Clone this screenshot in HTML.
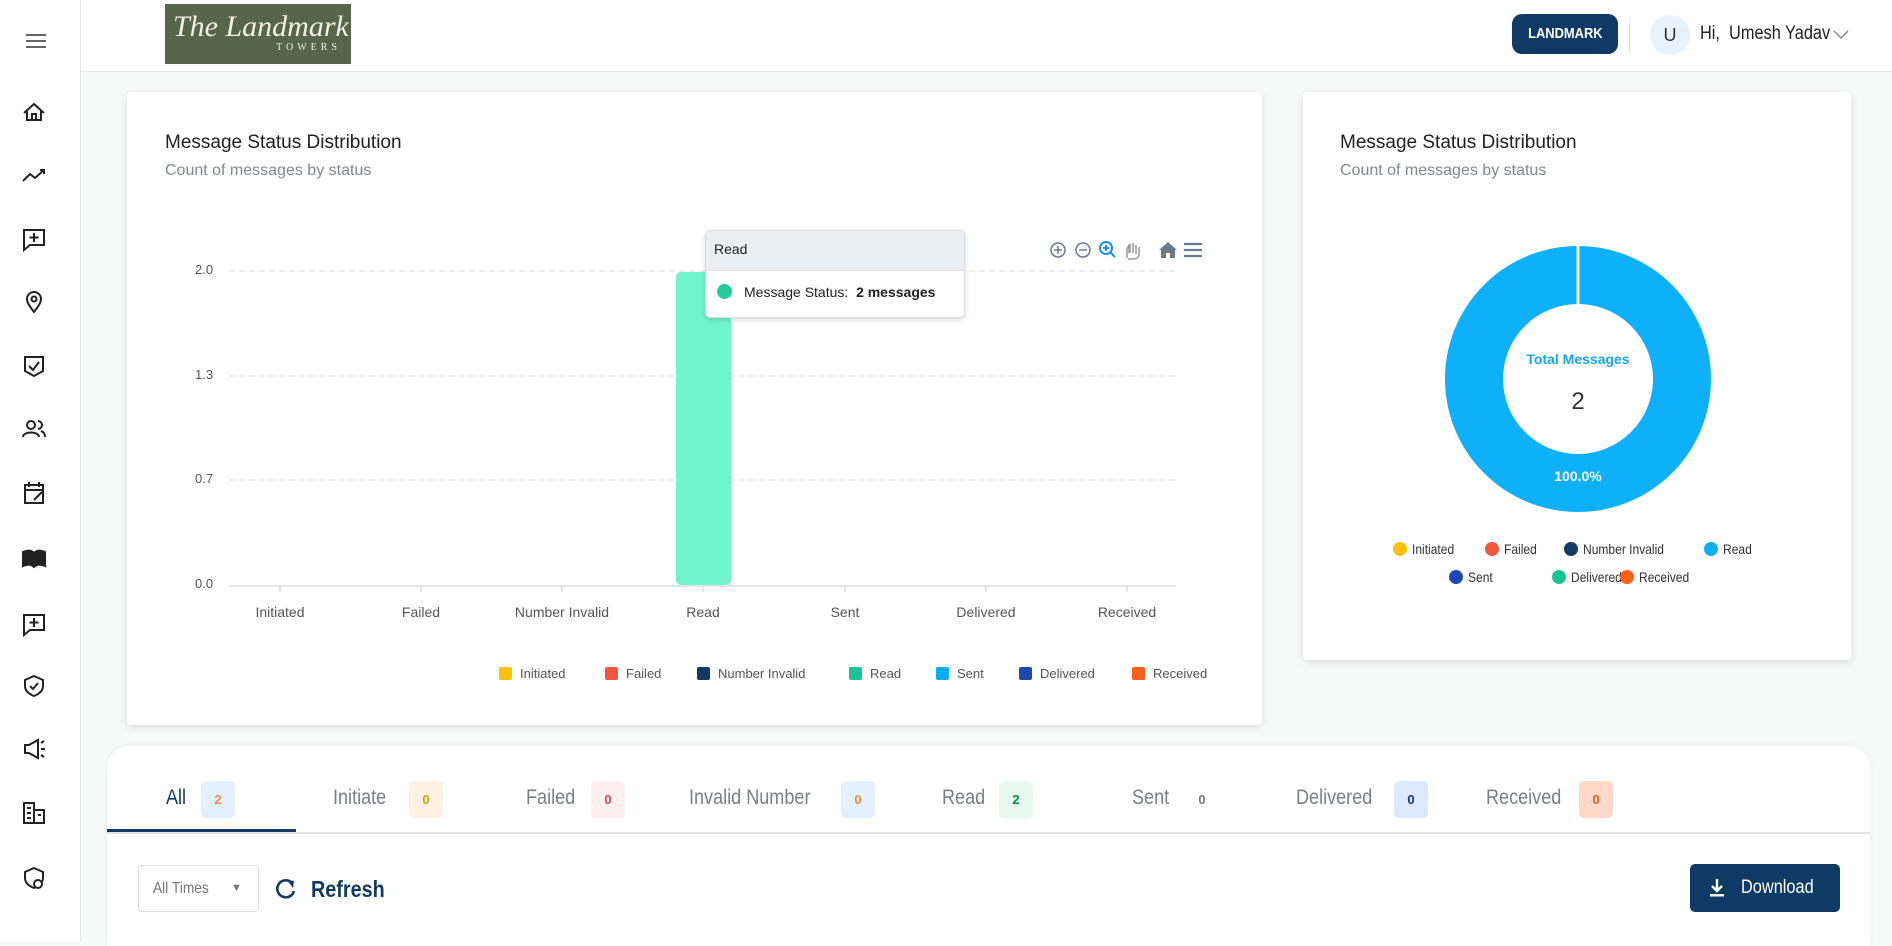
<!DOCTYPE html>
<html><head><meta charset="utf-8"><style>
*{box-sizing:border-box;margin:0;padding:0}
body{width:1892px;height:941px;overflow:hidden;background:#f7f8f8;font-family:"Liberation Sans",sans-serif;position:relative;color:#222}
.a{position:absolute}
.n{display:inline-block;transform:scaleX(.86);transform-origin:left center;white-space:nowrap}
.side{left:0;top:0;width:81px;height:941px;background:#fff;border-right:1px solid #e6e6e6}
.hdr{left:81px;top:0;width:1811px;height:72px;background:#fff;border-bottom:1px solid #e8e8e8}
.card{background:#fff;border-radius:4px;box-shadow:0 2px 8px rgba(0,0,0,.12)}
.t{font-size:19px;color:#1f1f1f}
.st{font-size:16px;color:#808890}
.ax{font-family:"Liberation Sans",sans-serif;font-size:13px;color:#555}
.lg{font-family:"Liberation Sans",sans-serif;font-size:13px;color:#555}
.mk{display:inline-block;width:13px;height:13px;border-radius:2px;vertical-align:-2px;margin-right:8px}
.dm{display:inline-block;width:14px;height:14px;border-radius:50%;vertical-align:-2px;margin-right:5px}
.tab{font-size:21px;color:#7a7f86;top:786px}
.bd{top:781px;height:37px;width:34px;border-radius:5px;font-size:13px;font-weight:bold;text-align:center;line-height:37px;font-family:"Liberation Sans",sans-serif}
</style></head><body>
<div class="a side"></div>
<svg class="a" style="left:0;top:0" width="81" height="941" fill="none" stroke="#222" stroke-width="2">
<g stroke="#666"><line x1="26" y1="35" x2="46" y2="35"/><line x1="26" y1="41" x2="46" y2="41"/><line x1="26" y1="47" x2="46" y2="47"/></g>
<path d="M24 113 L34 104 L44 113 M27 111 V120 H41 V111 M32 120 V114 H36 V120"/>
<path d="M23 181 L30 174 L35 178 L44 170 M40 170 H44 V174"/>
<path d="M24 230 H44 V245 H30 L24 250 Z M34 233 V242 M29.5 237.5 H38.5"/>
<path d="M34 312 C28 304 27 302 27 299 A7 7 0 0 1 41 299 C41 302 40 304 34 312 Z"/><circle cx="34" cy="299" r="2.5"/>
<path d="M25 357 H43 V371 L34 376 L25 371 Z M29 366 L33 370 L39 362"/>
<circle cx="31" cy="425" r="4"/><path d="M23 437 C23 431 39 431 39 437 M38 421 A4 4 0 0 1 38 429 M41 431 C44 432 45 434 45 437"/>
<path d="M25 485 H43 V503 H25 Z M25 490 H43 M29 482 V487 M39 482 V487 M34 500 L42 492"/>
<path d="M23 552 C28 550 31 550 34 553 C37 550 40 550 45 552 V566 C40 564 37 564 34 567 C31 564 28 564 23 566 Z" fill="#222"/>
<path d="M24 615 H44 V630 H30 L24 635 Z M34 618 V627 M29.5 622.5 H38.5"/>
<path d="M34 676 L43 680 V686 C43 691 39 694 34 696 C29 694 25 691 25 686 V680 Z M30 686 L33 689 L38 683"/>
<path d="M25 745 V753 H29 L38 758 V740 L29 745 Z M41 743 L44 741 M41 749 H45 M41 755 L44 757"/>
<path d="M24 803 H34 V823 H24 Z M34 810 H44 V823 H34 M27 808 H31 M27 813 H31 M27 818 H31 M38 815 H41"/>
<path d="M34 868 L43 872 V878 C43 883 39 886 34 888 C29 886 25 883 25 878 V872 Z"/><circle cx="38" cy="884" r="4" fill="#fff"/>
</svg>
<div class="a hdr"></div>
<div class="a" style="left:165px;top:4px;width:186px;height:60px;background:#56664a;color:#f1efe6;font-family:'Liberation Serif',serif;font-style:italic;font-size:30px;padding:8px 0 0 8px;line-height:30px">The Landmark<div style="font-style:normal;font-size:10px;letter-spacing:4px;text-align:right;padding-right:10px;line-height:12px">TOWERS</div></div>
<div class="a" style="left:1512px;top:14px;width:106px;height:40px;background:#0e3a64;border-radius:10px;color:#fff;font-weight:bold;font-size:15px;text-align:center;line-height:40px"><span class="n" style="transform-origin:center">LANDMARK</span></div>
<div class="a" style="left:1629px;top:18px;width:1px;height:34px;background:#e2e2e2"></div>
<div class="a" style="left:1650px;top:15px;width:40px;height:40px;border-radius:50%;background:#e6f2fd;color:#333;text-align:center;line-height:40px;font-size:18px">U</div>
<div class="a" style="left:1700px;top:23px;font-size:19px;color:#222"><span class="n">Hi,&nbsp; Umesh Yadav</span></div>
<svg class="a" style="left:1833px;top:30px" width="16" height="10"><path d="M1 1 L8 8 L15 1" stroke="#888" stroke-width="1.5" fill="none"/></svg>

<div class="a card" style="left:127px;top:92px;width:1135px;height:633px"></div>
<div class="a t" style="left:165px;top:132px">Message Status Distribution</div>
<div class="a st" style="left:165px;top:162px">Count of messages by status</div>
<svg class="a" style="left:0;top:0" width="1262" height="725">
<g stroke="#ddd" stroke-dasharray="6,4"><line x1="229" y1="271" x2="1176" y2="271"/><line x1="229" y1="376" x2="1176" y2="376"/><line x1="229" y1="480" x2="1176" y2="480"/></g>
<line x1="229" y1="586" x2="1176" y2="586" stroke="#ccc"/>
<g stroke="#ccc"><line x1="280" y1="586" x2="280" y2="592"/><line x1="421" y1="586" x2="421" y2="592"/><line x1="562" y1="586" x2="562" y2="592"/><line x1="703" y1="586" x2="703" y2="592"/><line x1="845" y1="586" x2="845" y2="592"/><line x1="986" y1="586" x2="986" y2="592"/><line x1="1127" y1="586" x2="1127" y2="592"/></g>
<rect x="676" y="272" width="55" height="313" rx="5" fill="#6ff5c9"/>
<g stroke="#6b7a89" stroke-width="1.5" fill="none"><circle cx="1058" cy="250" r="7"/><path d="M1054 250h8M1058 246v8"/><circle cx="1083" cy="250" r="7"/><path d="M1079 250h8"/></g>
<g stroke="#1a8fe8" stroke-width="2" fill="none"><circle cx="1106" cy="248" r="6"/><path d="M1110 252l5 5M1103 248h6M1106 245v6"/></g>
<path d="M1127 258v-9l2-4v8M1130 244v9M1133 243v10M1136 245v9M1139 247v8c0 3-3 4-6 4h-5" stroke="#999" stroke-width="1.5" fill="none"/>
<path d="M1159 250l9-8 9 8h-2v8h-5v-5h-4v5h-5v-8z" fill="#6b7a89"/>
<g stroke="#6b7a89" stroke-width="2.2"><line x1="1184" y1="244" x2="1202" y2="244"/><line x1="1184" y1="250" x2="1202" y2="250"/><line x1="1184" y1="256" x2="1202" y2="256"/></g>
</svg>
<div class="a ax" style="left:195px;top:262px">2.0</div>
<div class="a ax" style="left:195px;top:367px">1.3</div>
<div class="a ax" style="left:195px;top:471px">0.7</div>
<div class="a ax" style="left:195px;top:576px">0.0</div>
<div class="a ax" style="left:230px;top:604px;width:100px;text-align:center;font-size:14px">Initiated</div>
<div class="a ax" style="left:371px;top:604px;width:100px;text-align:center;font-size:14px">Failed</div>
<div class="a ax" style="left:502px;top:604px;width:120px;text-align:center;font-size:14px">Number Invalid</div>
<div class="a ax" style="left:653px;top:604px;width:100px;text-align:center;font-size:14px">Read</div>
<div class="a ax" style="left:795px;top:604px;width:100px;text-align:center;font-size:14px">Sent</div>
<div class="a ax" style="left:936px;top:604px;width:100px;text-align:center;font-size:14px">Delivered</div>
<div class="a ax" style="left:1077px;top:604px;width:100px;text-align:center;font-size:14px">Received</div>
<div class="a lg" style="left:499px;top:666px"><span class="mk" style="background:#fbc10d"></span>Initiated</div>
<div class="a lg" style="left:605px;top:666px"><span class="mk" style="background:#f5543f"></span>Failed</div>
<div class="a lg" style="left:697px;top:666px"><span class="mk" style="background:#143a63"></span>Number Invalid</div>
<div class="a lg" style="left:849px;top:666px"><span class="mk" style="background:#19c495"></span>Read</div>
<div class="a lg" style="left:936px;top:666px"><span class="mk" style="background:#0eaef5"></span>Sent</div>
<div class="a lg" style="left:1019px;top:666px"><span class="mk" style="background:#1e48b4"></span>Delivered</div>
<div class="a lg" style="left:1132px;top:666px"><span class="mk" style="background:#fd5f18"></span>Received</div>
<div class="a" style="left:705px;top:230px;width:260px;height:88px;background:#fff;border:1px solid #ddd;border-radius:5px;box-shadow:0 2px 6px rgba(0,0,0,.15);font-family:'Liberation Sans',sans-serif;overflow:hidden">
<div style="height:40px;background:#eceff1;border-bottom:1px solid #ddd;padding:10px 8px;font-size:14px">Read</div>
<div style="padding:13px 11px;font-size:14px"><span class="dm" style="background:#24cc9c;width:15px;height:15px;margin-right:12px"></span>Message Status:&nbsp; <b>2 messages</b></div></div>

<div class="a card" style="left:1303px;top:92px;width:548px;height:568px"></div>
<div class="a t" style="left:1340px;top:132px">Message Status Distribution</div>
<div class="a st" style="left:1340px;top:162px">Count of messages by status</div>
<svg class="a" style="left:1440px;top:240px" width="280" height="280"><circle cx="138" cy="139" r="104" fill="none" stroke="#0eb0f9" stroke-width="58"/><line x1="138" y1="5" x2="138" y2="66" stroke="#fff" stroke-width="3"/></svg>
<div class="a" style="left:1478px;top:351px;width:200px;text-align:center;color:#16a6ef;font-weight:bold;font-size:14px">Total Messages</div>
<div class="a" style="left:1478px;top:388px;width:200px;text-align:center;color:#333;font-size:24px">2</div>
<div class="a" style="left:1478px;top:468px;width:200px;text-align:center;color:#fff;font-weight:bold;font-size:14px">100.0%</div>
<div class="a lg" style="left:1393px;top:541px;font-size:14px;color:#333"><span class="dm" style="background:#fbc10d"></span><span class="n">Initiated</span></div>
<div class="a lg" style="left:1485px;top:541px;font-size:14px;color:#333"><span class="dm" style="background:#f5543f"></span><span class="n">Failed</span></div>
<div class="a lg" style="left:1564px;top:541px;font-size:14px;color:#333"><span class="dm" style="background:#143a63"></span><span class="n">Number Invalid</span></div>
<div class="a lg" style="left:1704px;top:541px;font-size:14px;color:#333"><span class="dm" style="background:#0eaef5"></span><span class="n">Read</span></div>
<div class="a lg" style="left:1449px;top:569px;font-size:14px;color:#333"><span class="dm" style="background:#1e48b4"></span><span class="n">Sent</span></div>
<div class="a lg" style="left:1552px;top:569px;font-size:14px;color:#333"><span class="dm" style="background:#19c495"></span><span class="n">Delivered</span></div>
<div class="a lg" style="left:1620px;top:569px;font-size:14px;color:#333"><span class="dm" style="background:#fd5f18"></span><span class="n">Received</span></div>

<div class="a" style="left:107px;top:746px;width:1763px;height:200px;background:#fff;border-radius:22px 22px 0 0;box-shadow:0 0 6px rgba(0,0,0,.05)"></div>
<div class="a" style="left:107px;top:832px;width:1763px;height:2px;background:#e2e2e2"></div>
<div class="a" style="left:107px;top:829px;width:189px;height:3px;background:#123a62"></div>
<div class="a tab" style="left:166px;color:#123a62"><span class="n">All</span></div><div class="a bd" style="left:201px;background:#e3f0fd;color:#f08a3c">2</div>
<div class="a tab" style="left:333px"><span class="n">Initiate</span></div><div class="a bd" style="left:409px;background:#fdf1e3;color:#d4a106">0</div>
<div class="a tab" style="left:526px"><span class="n">Failed</span></div><div class="a bd" style="left:591px;background:#fdeef0;color:#d9455a">0</div>
<div class="a tab" style="left:689px"><span class="n">Invalid Number</span></div><div class="a bd" style="left:841px;background:#e3f0fd;color:#f08a3c">0</div>
<div class="a tab" style="left:942px"><span class="n">Read</span></div><div class="a bd" style="left:999px;background:#e6f8ef;color:#0a8a45">2</div>
<div class="a tab" style="left:1132px"><span class="n">Sent</span></div><div class="a bd" style="left:1185px;color:#777">0</div>
<div class="a tab" style="left:1296px"><span class="n">Delivered</span></div><div class="a bd" style="left:1394px;background:#dce8fd;color:#1b2d8f">0</div>
<div class="a tab" style="left:1486px"><span class="n">Received</span></div><div class="a bd" style="left:1579px;background:#fdd9c9;color:#f15a10">0</div>
<div class="a" style="left:138px;top:865px;width:121px;height:47px;border:1px solid #ddd;border-radius:4px;font-size:16px;color:#777;padding:14px 0 0 14px"><span class="n">All Times</span><span style="position:absolute;left:92px;top:16px;font-size:11px">&#9660;</span></div>
<svg class="a" style="left:274px;top:877px" width="24" height="24"><path d="M18 6 A8.5 8.5 0 1 0 20 14" stroke="#123a62" stroke-width="2.6" fill="none"/><path d="M13 3 L20 4 L19 11 Z" fill="#123a62"/></svg>
<div class="a" style="left:311px;top:876px;font-size:23px;font-weight:bold;color:#123a62"><span class="n">Refresh</span></div>
<div class="a" style="left:1690px;top:864px;width:150px;height:48px;background:#0e3a64;border-radius:5px;color:#fff;font-size:19px;line-height:48px;padding-left:51px"><span class="n">Download</span></div>
<svg class="a" style="left:1707px;top:877px" width="20" height="22"><path d="M10 2 V13 M5 9 L10 14 L15 9" stroke="#fff" stroke-width="2.4" fill="none"/><rect x="3" y="17" width="14" height="2.5" fill="#fff"/></svg>
</body></html>
